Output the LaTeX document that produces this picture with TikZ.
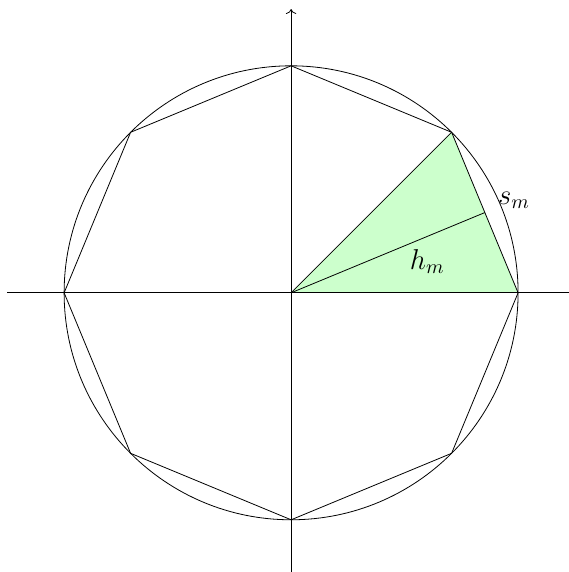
\documentclass[tikz,border=0pt]{standalone}
\usepackage{amsmath}
\usetikzlibrary{arrows.meta,calc}
\tikzset{
  sector/.style={fill=green!20},
  axis/.style={->},
  mlabel/.style={font=\Large}
}
\begin{document}
\begin{tikzpicture}
  \useasboundingbox (-5.13,-4.92) rectangle (4.88,5.16);
  \coordinate (O) at (0,0);
  \coordinate (A) at (0:4);
  \coordinate (B) at (45:4);
  \coordinate (M) at ($(A)!0.5!(B)$);
  \fill[sector] (O) -- (A) -- (B) -- cycle;
  \draw[axis] (-5,0) -- (5,0);
  \draw[axis] (0,-5) -- (0,5);
  \draw (O) circle (4);
  \draw (0:4) \foreach \a in {45,90,...,315} { -- (\a:4) } -- cycle;
  \draw (O) -- (B);
  \draw (O) -- (M);
  \node[mlabel] (s) at (22.5:4.25) {$s_m$};
  \node[mlabel] (h) at (2.4,0.55) {$h_m$};
\end{tikzpicture}
\end{document}
